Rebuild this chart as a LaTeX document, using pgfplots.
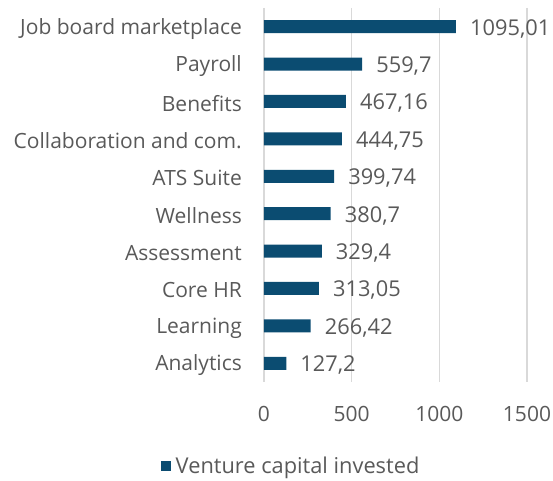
\documentclass[border=0pt]{standalone}
\usepackage{pgfplots}
\pgfplotsset{compat=1.18}
\usepackage{fontspec}
\setmainfont{Open Sans}
\definecolor{barcol}{HTML}{0B4C71}
\definecolor{txt}{HTML}{595959}
\definecolor{gridc}{HTML}{D9D9D9}
\newcommand{\fs}{\fontsize{21bp}{25bp}\selectfont}
\newcommand{\fn}{\fontsize{21.8bp}{25bp}\selectfont}
\begin{document}
\begin{tikzpicture}
\begin{axis}[
  name=ax,
  scale only axis,
  width=263bp, height=374bp,
  xbar, bar width=13bp,
  xmin=0, xmax=1500,
  ymin=-0.5, ymax=9.5,
  y dir=reverse,
  xtick={0,500,1000,1500},
  ytick={0,...,9},
  yticklabels={Job board marketplace,Payroll,Benefits,Collaboration and com.,ATS Suite,Wellness,Assessment,Core HR,Learning,Analytics},
  axis line style={draw=none},
  major tick length=0pt,
  xmajorgrids,
  grid style={draw=gridc, line width=1.3bp},
  tick label style={font=\fs, text=txt},
  /pgf/number format/assume math mode=true,
  /pgf/number format/1000 sep={},
  yticklabel style={inner sep=0pt, xshift=-22bp, yshift=-2bp},
  xticklabel style={inner sep=0pt, yshift=-24bp},
  nodes near coords={\pgfmathprintnumber[use comma,1000 sep={},precision=2]{\pgfplotspointmeta}},
  nodes near coords style={font=\fn, text=txt, inner sep=0pt, xshift=14bp, yshift=-2bp, anchor=west},
  legend style={at={(0.103,-0.2246)}, anchor=center, draw=none, fill=none, font=\fn, text=txt, inner sep=0pt},
  legend image code/.code={\fill[barcol] (0bp,-5bp) rectangle (10bp,5bp);},
  legend cell align=left,
  clip=false,
]
\addplot[fill=barcol, draw=none] coordinates {
(1095.01,0) (559.7,1) (467.16,2) (444.75,3) (399.74,4) (380.7,5) (329.4,6) (313.05,7) (266.42,8) (127.2,9)};
\addlegendentry{\hspace{3bp}Venture capital invested}
\end{axis}
\pgfresetboundingbox
\path (ax.south west) ++(-264bp,-99bp) coordinate (a);
\path (ax.north east) ++(26bp,8bp) coordinate (b);
\path[use as bounding box] (a) rectangle (b);
\end{tikzpicture}
\end{document}
